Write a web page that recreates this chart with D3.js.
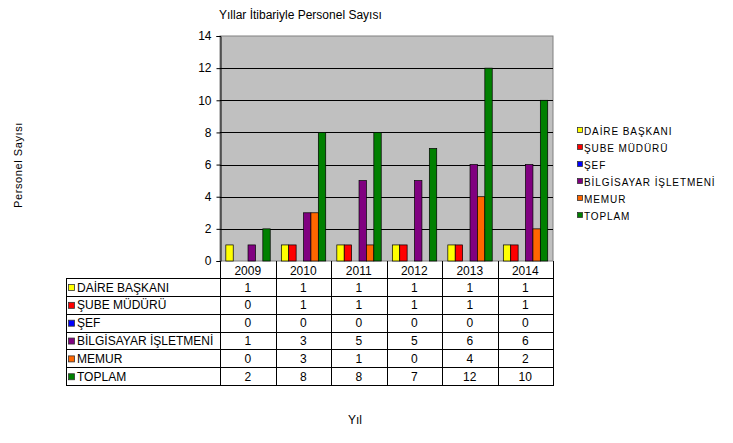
<!DOCTYPE html>
<html><head><meta charset="utf-8">
<script src="https://cdn.jsdelivr.net/npm/d3@7"></script>
<style>body{margin:0;background:#fff}svg{display:block;font-family:Arial,"Liberation Sans",sans-serif}</style>
</head><body><svg id="c" width="733" height="443"></svg>
<script>
const years = ["2009","2010","2011","2012","2013","2014"];
const seriesNames = ["DAİRE BAŞKANI","ŞUBE MÜDÜRÜ","ŞEF","BİLGİSAYAR İŞLETMENİ","MEMUR","TOPLAM"];
const seriesColors = ["#FFFF00","#FF0000","#0000FF","#800080","#FF6600","#008000"];
const daireBaskani = [1,1,1,1,1,1];
const subeMuduru = [0,1,1,1,1,1];
const sef = [0,0,0,0,0,0];
const bilgisayar = [1,3,5,5,6,6];
const memur = [0,3,1,0,4,2];
const toplam = [2,8,8,7,12,10];
const yTicks = [0,2,4,6,8,10,12,14];

const values = [daireBaskani, subeMuduru, sef, bilgisayar, memur, toplam];
const svg = d3.select("#c");
const L=220,R=553,T=36,B=261;
const x0 = d3.scaleBand().domain(years).range([L,R]).padding(0);
const bw = x0.bandwidth();
const x1 = d3.scaleBand().domain(d3.range(6)).range([bw*0.105,bw*0.905]).padding(0);
const y = d3.scaleLinear().domain([0,14]).range([B,T]);

// plot bg
svg.append("rect").attr("x",L).attr("y",T).attr("width",R-L).attr("height",B-T).attr("fill","#C0C0C0").attr("stroke","#808080").attr("stroke-width",1);
// grid
svg.append("g").selectAll("line").data(yTicks.filter(d=>d>0 && d<14)).join("line")
 .attr("x1",L).attr("x2",R).attr("y1",d=>Math.round(y(d))+0.5).attr("y2",d=>Math.round(y(d))+0.5).attr("stroke","#000");

// bars
const bars = [];
years.forEach((yr,i)=>values.forEach((arr,s)=>{ if(arr[i]>0) bars.push({yr,s,v:arr[i]}); }));
svg.append("g").selectAll("rect").data(bars).join("rect")
 .attr("x",d=>x0(d.yr)+x1(d.s)).attr("width",x1.bandwidth())
 .attr("y",d=>y(d.v)).attr("height",d=>B-y(d.v))
 .attr("fill",d=>seriesColors[d.s]).attr("stroke","#000").attr("stroke-width",0.7);

// y axis
const yAxis = d3.axisLeft(y).tickValues(yTicks).tickSize(4).tickPadding(5);
const ga = svg.append("g").attr("transform",`translate(${L+0.5},0)`).call(yAxis);
ga.select(".domain").attr("stroke","#000");
ga.selectAll("text").attr("font-size",12).attr("font-family","Arial").attr("fill","#000");
ga.selectAll("line").attr("stroke","#000");

// title
svg.append("text").attr("x",219).attr("y",19).attr("font-size",12).text("Yıllar İtibariyle Personel Sayısı");
svg.append("text").attr("transform","translate(22,165) rotate(-90)").attr("text-anchor","middle").attr("font-size",11).attr("letter-spacing",0.6).text("Personel Sayısı");
svg.append("text").attr("x",355).attr("y",424).attr("text-anchor","middle").attr("font-size",12).text("Yıl");

// table
const tL=66, hT=B, rowH=17.85, rT=278;
const tb = svg.append("g");
// header row
tb.selectAll(".hdr").data(years).join("text").attr("x",d=>x0(d)+bw/2).attr("y",hT+13.5).attr("text-anchor","middle").attr("font-size",12).text(d=>d);
// vertical lines
const vx = [L].concat(years.map(d=>x0(d)+bw));
tb.selectAll(".v").data(vx).join("line").attr("x1",d=>Math.round(d)+0.5).attr("x2",d=>Math.round(d)+0.5).attr("y1",hT).attr("y2",rT+rowH*6).attr("stroke","#000");
tb.append("line").attr("x1",tL+0.5).attr("x2",tL+0.5).attr("y1",rT).attr("y2",rT+rowH*6).attr("stroke","#000");
// horizontal lines
tb.selectAll(".h").data(d3.range(7)).join("line").attr("x1",tL).attr("x2",R+1).attr("y1",d=>Math.round(rT+d*rowH)+0.5).attr("y2",d=>Math.round(rT+d*rowH)+0.5).attr("stroke","#000");
// rows
seriesNames.forEach((nm,s)=>{
  const yy = rT+s*rowH;
  tb.append("rect").attr("x",68.5).attr("y",yy+6.5).attr("width",6).attr("height",6).attr("fill",seriesColors[s]).attr("stroke","#333").attr("stroke-width",0.8);
  tb.append("text").attr("x",77).attr("y",yy+13.5).attr("font-size",12).text(nm);
  years.forEach((yr,i)=>{
    tb.append("text").attr("x",x0(yr)+bw/2).attr("y",yy+13.5).attr("text-anchor","middle").attr("font-size",12).text(values[s][i]);
  });
});

// legend
const lg = svg.append("g");
seriesNames.forEach((nm,s)=>{
  const yy = 131+s*17;
  lg.append("rect").attr("x",577.5).attr("y",yy-3.5).attr("width",5).attr("height",5).attr("fill",seriesColors[s]).attr("stroke","#333").attr("stroke-width",0.8);
  lg.append("text").attr("x",584).attr("y",yy+3.5).attr("font-size",10).attr("letter-spacing",0.9).text(nm);
});
</script></body></html>
